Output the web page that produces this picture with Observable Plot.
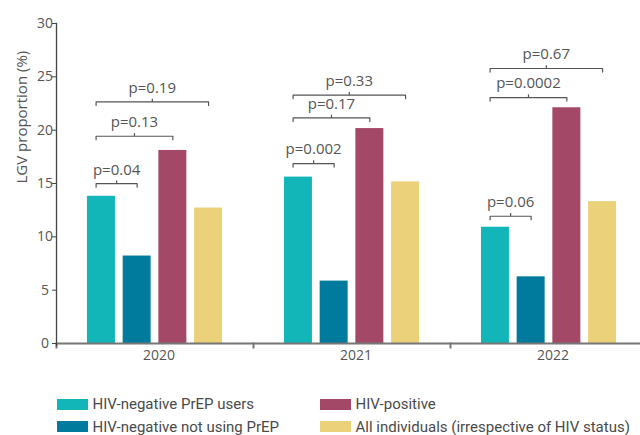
<!DOCTYPE html>
<html><head><meta charset="utf-8">
<script src="https://cdn.jsdelivr.net/npm/d3@7"></script>
<script src="https://cdn.jsdelivr.net/npm/@observablehq/plot@0.6"></script>
<style>
body{margin:0;background:#fff;font-family:"Open Sans",sans-serif;overflow:hidden;}
#chart svg{display:block;overflow:visible;}
#legend{display:grid;grid-template-columns:263px auto;grid-template-rows:22.6px 22.6px;grid-auto-flow:column;padding-left:57px;margin-top:23px;font-family:Roboto,sans-serif;font-size:15px;line-height:14px;color:#4a4a4a;}
#legend .item{display:flex;align-items:center;white-space:nowrap;}
#legend .sw{width:31px;height:11px;margin-right:4.5px;flex:none;}
</style></head><body>
<div id="chart"></div>
<div id="legend"></div>
<script>
// ---- data ----
const years = ["2020", "2021", "2022"];
const series = ["HIV-negative PrEP users", "HIV-negative not using PrEP", "HIV-positive", "All individuals (irrespective of HIV status)"];
const colors = ["#13b6b8", "#007b9e", "#a34867", "#ebd17a"];
const v2020 = [13.8, 8.2, 18.1, 12.7];
const v2021 = [15.6, 5.85, 20.15, 15.15];
const v2022 = [10.9, 6.25, 22.1, 13.3];
const yTicks = [0, 5, 10, 15, 20, 25, 30];
const yLabel = "LGV proportion (%)";
// p-value comparisons: PrEP users vs series index pTarget
const pYear = ["2020", "2020", "2020", "2021", "2021", "2021", "2022", "2022", "2022"];
const pTarget = [1, 2, 3, 1, 2, 3, 1, 2, 3];
const pLevel = [14.98, 19.43, 22.65, 16.87, 21.15, 23.28, 11.93, 23.06, 25.78];
const pLabel = ["p=0.04", "p=0.13", "p=0.19", "p=0.002", "p=0.17", "p=0.33", "p=0.06", "p=0.0002", "p=0.67"];

// ---- layout/style ----
const W = 640, H = 370, MT = 23, MB = 27, ML = 56, MR = -7;
const BW = 0.392;      // half bar width in series-step units
const START = -0.15;   // bracket start offset
const DROP = 0.33, UP = 0.3;

const values = [v2020, v2021, v2022];
const bars = years.flatMap((y, i) => values[i].map((v, j) => ({year: y, s: j, series: series[j], value: v})));
const brackets = pLabel.map((lab, i) => ({
  id: i, year: pYear[i], x0: START, x1: pTarget[i], level: pLevel[i], label: lab,
  mid: (START + pTarget[i]) / 2
}));
const bracketPts = brackets.flatMap(b =>
  [[b.x0, b.level - DROP], [b.x0, b.level], [b.x1, b.level], [b.x1, b.level - DROP]]
    .map(([x, y]) => ({id: b.id, year: b.year, x, y})));

const plot = Plot.plot({
  width: W, height: H,
  marginTop: MT, marginBottom: MB, marginLeft: ML, marginRight: MR,
  style: {fontFamily: "Open Sans, sans-serif", fontSize: "14px", color: "#555", background: "white", overflow: "visible"},
  fx: {domain: years, padding: 0, label: null},
  x: {domain: [-1.259, 4.259], axis: null},
  y: {domain: [0, 30], axis: null},
  color: {domain: series, range: colors},
  marks: [
    Plot.rectY(bars, {fx: "year", x1: d => d.s - BW, x2: d => d.s + BW, y: "value", fill: "series"}),
    Plot.ruleY([0], {stroke: "#777", strokeWidth: 2}),
    Plot.frame({anchor: "left", stroke: "#777", strokeWidth: 2, insetTop: H - MT - MB, insetBottom: -4}),
    Plot.frame({anchor: "left", facetAnchor: "left", stroke: "#444", strokeWidth: 1.3, insetBottom: -2}),
    Plot.axisY({ticks: yTicks, tickSize: 4, tickPadding: 7.5, textAnchor: "middle", fontSize: 14, color: "#555", stroke: "#444", label: null}),
    Plot.text([yLabel], {frameAnchor: "left", facetAnchor: "left", rotate: -90, dx: -34, fontSize: 15, fill: "#555", text: d => d}),
    Plot.line(bracketPts, {fx: "year", x: "x", y: "y", z: "id", stroke: "#555", strokeWidth: 1.2}),
    Plot.link(brackets, {fx: "year", x1: "mid", x2: "mid", y1: "level", y2: d => d.level + UP, stroke: "#555", strokeWidth: 1.2}),
    Plot.text(brackets, {fx: "year", x: "mid", y: "level", text: "label", dy: -14, fontSize: 15, fill: "#555"}),
    Plot.axisFx({anchor: "bottom", tickSize: 0, tickPadding: 7, fontSize: 14, dx: 4, color: "#555", label: null, style: {letterSpacing: "0.6px"}})
  ]
});
document.getElementById("chart").append(plot);

const legend = document.getElementById("legend");
series.forEach((s, i) => {
  const it = document.createElement("div");
  it.className = "item";
  it.innerHTML = `<span class="sw" style="background:${colors[i]}"></span><span></span>`;
  it.lastChild.textContent = s;
  legend.append(it);
});
</script>
</body></html>
